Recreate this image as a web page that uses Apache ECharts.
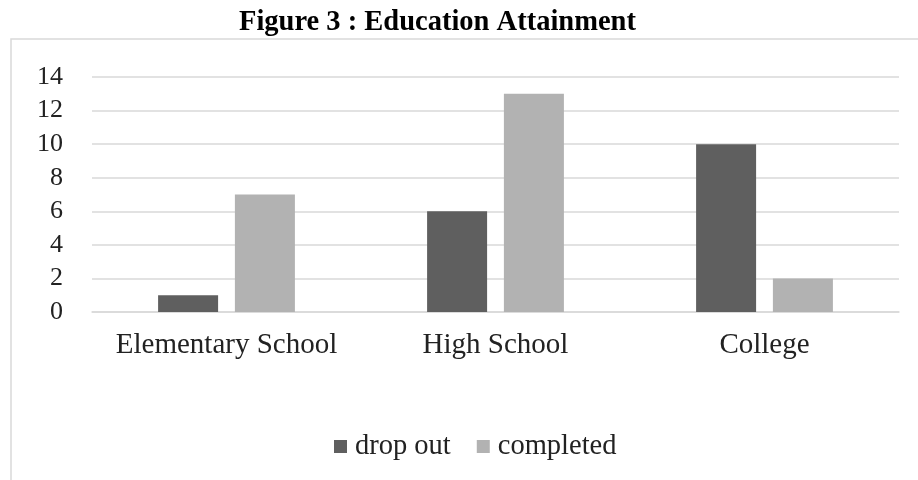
<!DOCTYPE html>
<html>
<head>
<meta charset="utf-8">
<script src="https://cdn.jsdelivr.net/npm/echarts@6/dist/echarts.min.js"></script>
<style>
  html, body { margin: 0; padding: 0; background: #fff; }
  #chart { width: 918px; height: 480px; }
</style>
</head>
<body>
<div id="chart"></div>
<script>
const categories = ['Elementary School', 'High School', 'College'];
const dropOut = [1, 6, 10];
const completed = [7, 13, 2];
const seriesNames = ['drop out', 'completed'];

const font = '"Liberation Serif", "Times New Roman", serif';

const chart = echarts.init(document.getElementById('chart'));

const option = {
  backgroundColor: '#fff',
  animation: false,
  title: {
    text: 'Figure 3 : Education Attainment',
    left: 234,
    top: 3,
    textStyle: {
      fontFamily: font,
      fontSize: 28.5,
      fontWeight: 'bold',
      color: '#000'
    }
  },
  graphic: [{
    type: 'rect',
    shape: { x: 11, y: 39, width: 940, height: 480 },
    style: { fill: 'none', stroke: '#d9d9d9', lineWidth: 1.5 },
    z: -1
  }],
  legend: {
    bottom: 14,
    left: 329,
    itemWidth: 13,
    itemHeight: 13,
    itemGap: 26,
    icon: 'rect',
    textStyle: { fontFamily: font, fontSize: 28.5, color: '#222', padding: [0, 0, 0, 3] },
    data: seriesNames
  },
  grid: {
    left: 92,
    right: 19,
    top: 77,
    bottom: 168
  },
  xAxis: {
    type: 'category',
    data: categories,
    axisLine: { lineStyle: { color: '#d9d9d9', width: 1.5 } },
    axisTick: { show: false },
    axisLabel: {
      interval: 0,
      hideOverlap: false,
      fontFamily: font,
      fontSize: 29,
      color: '#222',
      margin: 19
    }
  },
  yAxis: {
    type: 'value',
    min: 0,
    max: 14,
    interval: 2,
    axisLine: { show: false },
    axisTick: { show: false },
    splitLine: { lineStyle: { color: '#d9d9d9', width: 1.5 } },
    axisLabel: { fontFamily: font, fontSize: 26, color: '#222', margin: 29 }
  },
  series: [
    {
      name: seriesNames[0],
      type: 'bar',
      data: dropOut,
      barWidth: 60,
      barGap: '28%',
      itemStyle: { color: '#5f5f5f' }
    },
    {
      name: seriesNames[1],
      type: 'bar',
      data: completed,
      barWidth: 60,
      barGap: '28%',
      itemStyle: { color: '#b2b2b2' }
    }
  ]
};

chart.setOption(option);
</script>
</body>
</html>
